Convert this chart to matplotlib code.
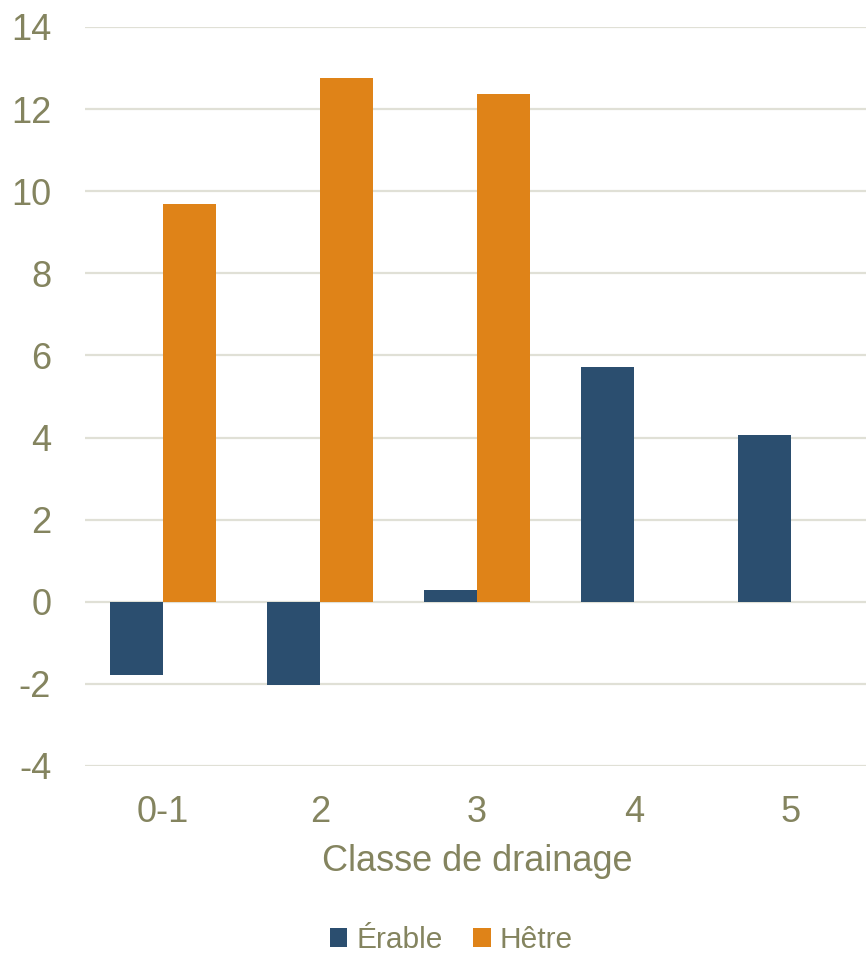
import matplotlib.pyplot as plt
import numpy as np

plt.rcParams['font.family'] = ['Liberation Sans', 'DejaVu Sans']
plt.rcParams['axes.unicode_minus'] = False

classes = ['0-1', '2', '3', '4', '5']
erable = [-1.78, -2.02, 0.29, 5.73, 4.05]
hetre = [9.68, 12.76, 12.37, 0, 0]

text_col = '#84845f'
grid_col = '#e0e0d6'

fig = plt.figure(figsize=(8.66, 9.57), dpi=100)
ax = fig.add_axes([0.0976, 0.1996, 0.9065, 0.7722])

x = np.arange(len(classes))
w = 0.335
ax.bar(x - w / 2, erable, w, color='#2b4e6f', label='Érable', zorder=3)
ax.bar(x + w / 2, hetre, w, color='#df8318', label='Hêtre', zorder=3)

ax.set_xlim(-0.5, 4.5)
ax.set_ylim(-4, 14)
ax.set_yticks(range(-4, 15, 2))
ax.set_xticks(x)
ax.set_xticklabels(classes)
ax.yaxis.grid(True, color=grid_col, lw=1.6, zorder=0)
ax.set_axisbelow(True)
for s in ax.spines.values():
    s.set_visible(False)
ax.tick_params(axis='both', length=0, labelsize=26, colors=text_col)
ax.tick_params(axis='y', pad=24)
ax.tick_params(axis='x', pad=21)
ax.set_xlabel('Classe de drainage', fontsize=26, color=text_col, labelpad=10)

ax.legend(loc='upper center', bbox_to_anchor=(0.467, -0.18), ncol=2, frameon=False,
          fontsize=21.5, labelcolor=text_col, handlelength=0.6, handleheight=0.6,
          handletextpad=0.3, columnspacing=1.0)

fig.savefig('out.png', dpi=100)
